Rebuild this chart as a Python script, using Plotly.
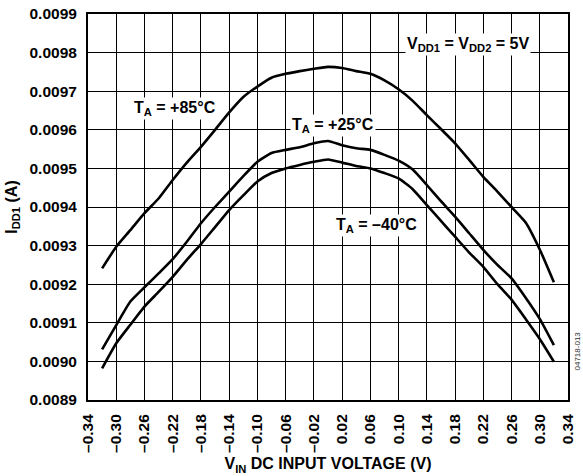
import plotly.graph_objects as go

v_in = [-0.32, -0.30, -0.28, -0.26, -0.24, -0.22, -0.20, -0.18, -0.16, -0.14, -0.12,
        -0.10, -0.08, -0.06, -0.04, -0.02, 0.00, 0.02, 0.04, 0.06, 0.08, 0.10,
        0.12, 0.14, 0.16, 0.18, 0.20, 0.22, 0.24, 0.26, 0.28, 0.30, 0.32]

idd_85 = [0.009241, 0.009297, 0.009340, 0.009384, 0.009422, 0.009470, 0.009515,
          0.009556, 0.009600, 0.009645, 0.009685, 0.009712, 0.009735, 0.009745,
          0.009752, 0.009758, 0.009763, 0.009760, 0.009752, 0.009745, 0.009728,
          0.009705, 0.009675, 0.009638, 0.009602, 0.009565, 0.009522, 0.009478,
          0.009440, 0.009400, 0.009360, 0.009290, 0.009205]

idd_25 = [0.009031, 0.009094, 0.009155, 0.009192, 0.009228, 0.009265, 0.009310,
          0.009358, 0.009400, 0.009440, 0.009480, 0.009517, 0.009540, 0.009548,
          0.009555, 0.009565, 0.009571, 0.009560, 0.009552, 0.009548, 0.009535,
          0.009520, 0.009497, 0.009457, 0.009415, 0.009375, 0.009332, 0.009289,
          0.009250, 0.009215, 0.009165, 0.009110, 0.009042]

idd_m40 = [0.008982, 0.009047, 0.009095, 0.009142, 0.009180, 0.009219, 0.009263,
           0.009304, 0.009348, 0.009392, 0.009430, 0.009466, 0.009488, 0.009500,
           0.009509, 0.009517, 0.009523, 0.009515, 0.009506, 0.009500, 0.009488,
           0.009474, 0.009446, 0.009405, 0.009364, 0.009323, 0.009282, 0.009245,
           0.009200, 0.009160, 0.009110, 0.009058, 0.008999]

x_ticks = [-0.34, -0.30, -0.26, -0.22, -0.18, -0.14, -0.10, -0.06, -0.02,
           0.02, 0.06, 0.10, 0.14, 0.18, 0.22, 0.26, 0.30, 0.34]
x_tick_text = ["–0.34", "–0.30", "–0.26", "–0.22", "–0.18", "–0.14", "–0.10", "–0.06", "–0.02",
               "0.02", "0.06", "0.10", "0.14", "0.18", "0.22", "0.26", "0.30", "0.34"]
y_ticks = [0.0089, 0.0090, 0.0091, 0.0092, 0.0093, 0.0094, 0.0095, 0.0096, 0.0097, 0.0098, 0.0099]
y_tick_text = ["0.0089", "0.0090", "0.0091", "0.0092", "0.0093", "0.0094", "0.0095",
               "0.0096", "0.0097", "0.0098", "0.0099"]

FONT = "Arial, 'Liberation Sans', Helvetica, sans-serif"

fig = go.Figure()
for ys in (idd_85, idd_25, idd_m40):
    fig.add_trace(go.Scatter(x=v_in, y=ys, mode="lines",
                             line=dict(color="black", width=2.6, shape="spline", smoothing=0.5),
                             showlegend=False, hoverinfo="skip"))

labels = [
    ("T<sub>A</sub> = +85°C", -0.2168, 0.009656),
    ("T<sub>A</sub> = +25°C", 0.0071, 0.009612),
    ("T<sub>A</sub> = –40°C", 0.0694, 0.009353),
    ("V<sub>DD1</sub> = V<sub>DD2</sub> = 5V", 0.198, 0.00982),
]
for txt, x, y in labels:
    fig.add_annotation(x=x, y=y, text=txt, showarrow=False, bgcolor="white",
                       borderpad=1,
                       font=dict(family=FONT, size=16, color="black", weight="bold"))

fig.add_annotation(x=1, y=0.07, xref="paper", yref="paper", text="04718-013",
                   showarrow=False, textangle=-90, xanchor="center", xshift=9,
                   font=dict(family=FONT, size=8, color="#333333"))

fig.update_layout(
    width=583, height=476,
    margin=dict(l=88, r=15, t=14, b=76),
    paper_bgcolor="white", plot_bgcolor="white",
    font=dict(family=FONT, size=15, color="black"),
)
fig.update_xaxes(range=[-0.34, 0.34], tickvals=x_ticks, ticktext=x_tick_text,
                 tickangle=-90, showgrid=True, gridcolor="black", gridwidth=1,
                 showline=True, linecolor="black", linewidth=2, mirror=True,
                 ticks="", zeroline=False, ticklabelstandoff=6, automargin=False,
                 tickfont=dict(size=15.5, weight="bold"),
                 title=dict(text="V<sub>IN</sub> DC INPUT VOLTAGE (V)",
                            font=dict(size=16, weight="bold"), standoff=6))
fig.update_yaxes(range=[0.0089, 0.0099], tickvals=y_ticks, ticktext=y_tick_text,
                 showgrid=True, gridcolor="black", gridwidth=1,
                 showline=True, linecolor="black", linewidth=2, mirror=True,
                 ticks="", zeroline=False, ticklabelstandoff=6, automargin=False,
                 tickfont=dict(size=15.5, weight="bold"),
                 title=dict(text="I<sub>DD1</sub> (A)",
                            font=dict(size=16, weight="bold"), standoff=8))

fig.write_html("out.html", config={"displayModeBar": False},
               post_script="document.body.style.margin='0';document.body.style.overflow='hidden';")
